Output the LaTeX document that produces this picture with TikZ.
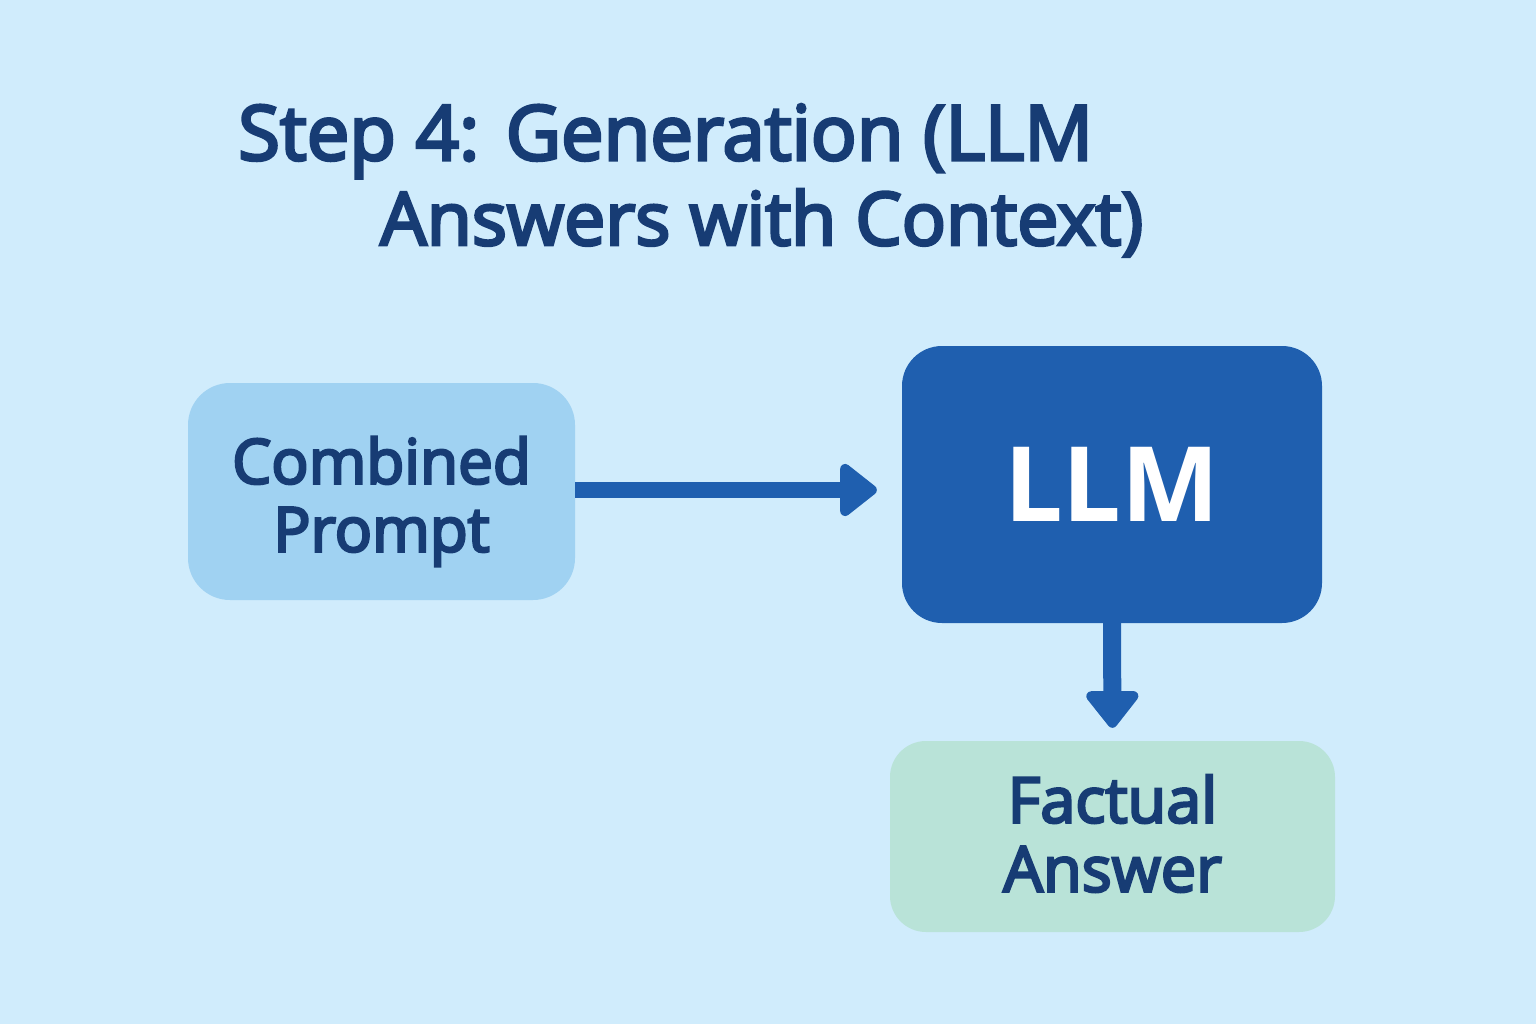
\documentclass[tikz,border=0pt]{standalone}
\usepackage{fontspec}
\setmainfont{Open Sans}
\newfontfamily\medfont{Open Sans}[FakeBold=4]
\usetikzlibrary{arrows.meta}
\definecolor{bg}{HTML}{D0ECFC}
\definecolor{promptfill}{HTML}{A0D2F2}
\definecolor{llmfill}{HTML}{1F5FAF}
\definecolor{ansfill}{HTML}{B9E3D8}
\definecolor{ink}{HTML}{173C74}
\definecolor{arrowc}{HTML}{1F5FAF}
\tikzset{
  box/.style={rectangle, rounded corners=42pt, inner sep=0pt},
  label/.style={align=center, inner sep=0pt, text=ink},
  conn/.style={draw=arrowc, -{Triangle[width=60pt,length=40pt,round]}, line join=round},
}
\begin{document}
\begin{tikzpicture}[x=1pt,y=-1pt]
\fill[bg] (0,0) rectangle (1536,1024);
\useasboundingbox (0,0) rectangle (1536,1024);
\node[anchor=base west, text=ink, font=\medfont\fontsize{76}{80}\selectfont, inner sep=0pt] (t1) at (238,160) {Step 4: Generation (LLM};
\node[anchor=base west, text=ink, font=\medfont\fontsize{73.5}{80}\selectfont, inner sep=0pt] (t2) at (380,245) {Answers with Context)};
\node[box, fill=promptfill, minimum width=387pt, minimum height=217pt] (prompt) at (381.5,491.5) {};
\node[label, font=\medfont\fontsize{62}{68}\selectfont] (ptext) at ([yshift=-10pt]prompt.center) {Combined\\Prompt};
\node[box, fill=llmfill, rounded corners=40pt, minimum width=420pt, minimum height=277pt, text=white, font=\fontsize{104}{110}\selectfont\bfseries] (llm) at (1112,484.5) {LLM};
\node[box, fill=ansfill, rounded corners=36pt, minimum width=445pt, minimum height=191pt] (ans) at (1112.5,836.5) {};
\node[label, font=\medfont\fontsize{63}{69}\selectfont] (atext) at ([yshift=3pt]ans.center) {Factual\\Answer};
\draw[conn, line width=16pt, shorten >=25pt] (prompt.east |- 0,490) -- (llm.west |- 0,490);
\draw[conn, line width=18pt, shorten >=13pt] (llm.south) -- (ans.north);
\end{tikzpicture}
\end{document}
